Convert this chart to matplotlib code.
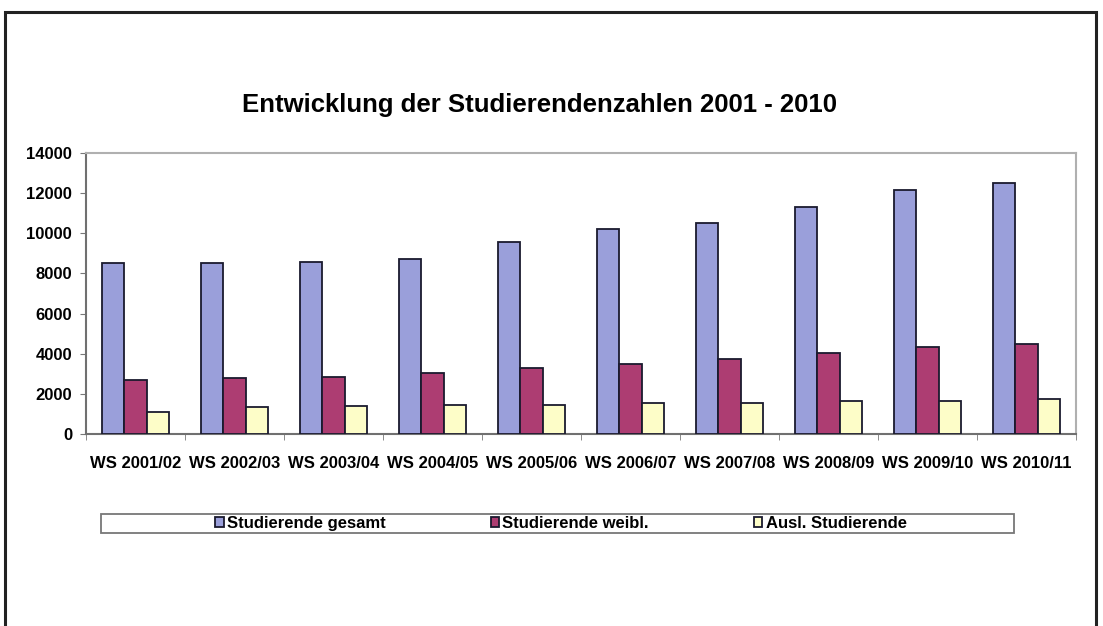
import matplotlib
matplotlib.use('Agg')
import matplotlib.pyplot as plt
import numpy as np
from matplotlib.patches import Rectangle

# Data
semesters = ['WS 2001/02', 'WS 2002/03', 'WS 2003/04', 'WS 2004/05', 'WS 2005/06',
             'WS 2006/07', 'WS 2007/08', 'WS 2008/09', 'WS 2009/10', 'WS 2010/11']
gesamt = [8500, 8540, 8590, 8700, 9580, 10200, 10500, 11320, 12160, 12520]
weibl = [2690, 2770, 2850, 3020, 3270, 3490, 3720, 4020, 4320, 4480]
ausl = [1110, 1360, 1395, 1445, 1445, 1530, 1560, 1640, 1645, 1730]

series_names = ['Studierende gesamt', 'Studierende weibl.', 'Ausl. Studierende']
colors = ['#9a9fda', '#ad3d72', '#fdfdc8']

plt.rcParams['font.family'] = ['Liberation Sans', 'DejaVu Sans']

W, H = 1103, 626
fig = plt.figure(figsize=(W / 100, H / 100), dpi=100)

# outer frame of the picture (bottom edge is cut off)
fig.patches.append(Rectangle((5 / W, -0.05), (1096 - 5) / W, 1.05 - 12 / H,
                             transform=fig.transFigure, fill=False,
                             edgecolor='#222222', linewidth=2.2))

ax = fig.add_axes([86 / W, 1 - 434 / H, (1076 - 86) / W, (434 - 153) / H])

x = np.arange(len(semesters))
bw = 0.227
for i, (vals, c) in enumerate(zip([gesamt, weibl, ausl], colors)):
    ax.bar(x + (i - 1) * bw, vals, width=bw, color=c, edgecolor='#1a1a2e',
           linewidth=1.3, label=series_names[i], zorder=3)

ax.set_xlim(-0.5, len(semesters) - 0.5)
ax.set_ylim(0, 14000)
ax.set_yticks(range(0, 14001, 2000))
ax.set_yticklabels([str(v) for v in range(0, 14001, 2000)],
                   fontsize=12, fontweight='bold')
ax.set_xticks(x)
ax.set_xticklabels(semesters, fontsize=12, fontweight='bold')
ax.set_xticks(np.arange(-0.5, len(semesters), 1), minor=True)
ax.tick_params(axis='x', which='major', length=0, pad=16)
ax.tick_params(axis='x', which='minor', length=4, color='#777777', direction='out')
ax.tick_params(axis='y', length=4, color='#777777', pad=6)

for side in ['top', 'right']:
    ax.spines[side].set_color('#b0b0b0')
    ax.spines[side].set_linewidth(1.5)
for side in ['left', 'bottom']:
    ax.spines[side].set_color('#707070')
    ax.spines[side].set_linewidth(1.5)

fig.text(539 / W, 1 - 105 / H, 'Entwicklung der Studierendenzahlen 2001 - 2010',
         fontsize=18.5, fontweight='bold', ha='center', va='center')

# legend box
fig.patches.append(Rectangle((101 / W, 1 - 533 / H), (1014 - 101) / W, 19 / H,
                             transform=fig.transFigure, fill=False,
                             edgecolor='#777777', linewidth=1.3))
leg = fig.legend(loc='center', bbox_to_anchor=(561 / W, 1 - 523.5 / H),
                 ncol=3, fontsize=12, frameon=False,
                 handlelength=0.5, handleheight=0.5, handletextpad=0.2,
                 borderpad=0, borderaxespad=0, columnspacing=6.3)
for t in leg.get_texts():
    t.set_fontweight('bold')

fig.savefig('out.png', dpi=100)
